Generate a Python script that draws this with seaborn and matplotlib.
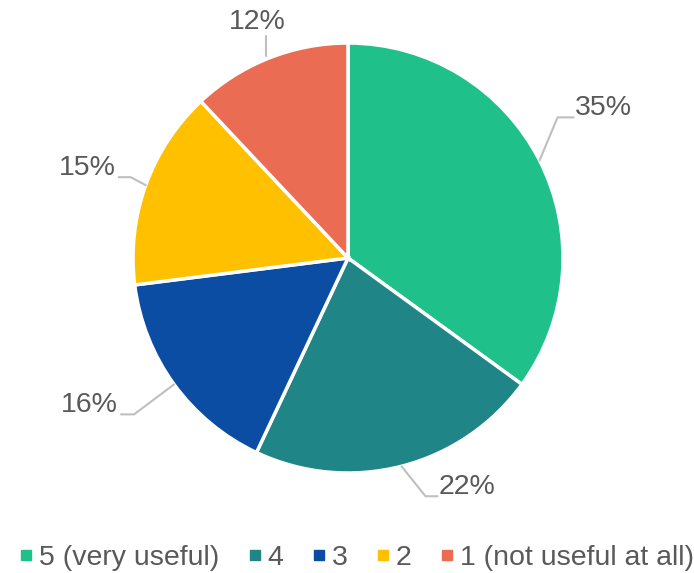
import numpy as np
import matplotlib
matplotlib.use("Agg")
import matplotlib.pyplot as plt
from matplotlib.lines import Line2D
import seaborn as sns

# Survey answers: how useful was it?
categories = ["5 (very useful)", "4", "3", "2", "1 (not useful at all)"]
shares = [35, 22, 16, 15, 12]
slice_colors = ["#20C08A", "#1F8587", "#0A4DA3", "#FFC000", "#E96C53"]

sns.set_theme(style="white")
plt.rcParams["font.family"] = ["Liberation Sans", "DejaVu Sans"]
palette = sns.color_palette(slice_colors)

W, H = 694, 573
fig = plt.figure(figsize=(W / 100, H / 100), dpi=100)
ax = fig.add_axes([0, 0, 1, 1])

cx, cy, R = 348, H - 258, 215
wedges, _ = ax.pie(shares, colors=palette, startangle=90, counterclock=False,
                   center=(cx, cy), radius=R,
                   wedgeprops=dict(edgecolor="white", linewidth=2.5))
ax.set_xlim(0, W)
ax.set_ylim(0, H)
ax.set_aspect("equal")
ax.axis("off")

# label layout: elbow offset from the slice edge, text side, tail length (pixels, y up)
layout = [
    ((18, 43), "right", 16),
    ((24, -30), "right", 12),
    ((-40, -30), "left", 13),
    ((-15, 8), "left", 12),
    (None, None, None),
]
text_color = "#595959"
line_color = "#BFBFBF"
label_size = 20.5
total = sum(shares)
start = 90.0
for i, (val, w) in enumerate(zip(shares, wedges)):
    span = val / total * 360
    mid = np.deg2rad(start - span / 2)
    start -= span
    ex, ey = cx + R * np.cos(mid), cy + R * np.sin(mid)
    elbow, side, tail = layout[i]
    label = f"{val}%"
    if elbow is None:
        # top label: vertical leader
        ax.plot([ex - 3, ex - 3], [ey + 2, ey + 22], color=line_color, lw=1.5)
        ax.text(ex - 12, ey + 36, label, ha="center", va="center",
                fontsize=label_size, color=text_color)
        continue
    bx, by = ex + elbow[0], ey + elbow[1]
    tx = bx + tail if side == "right" else bx - tail
    ax.plot([ex, bx, tx], [ey, by, by], color=line_color, lw=1.5)
    ax.text(tx + (1 if side == "right" else -3), by + 9, label,
            ha="left" if side == "right" else "right", va="center",
            fontsize=label_size, color=text_color)

handles = [Line2D([], [], marker="s", ls="", color=c, markersize=7) for c in palette]
ax.legend(handles, categories, loc="center", bbox_to_anchor=(355 / W, 15 / H),
          ncol=5, frameon=False, fontsize=20.5, handletextpad=0.1,
          columnspacing=0.9, handlelength=0.7, labelcolor=text_color,
          borderaxespad=0, borderpad=0)

fig.savefig("out.png", dpi=100)
